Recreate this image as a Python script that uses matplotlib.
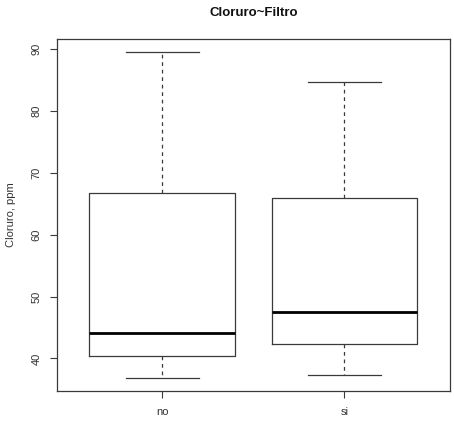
import matplotlib
matplotlib.use("Agg")
import matplotlib.pyplot as plt

plt.rcParams["font.family"] = ["Liberation Sans", "DejaVu Sans"]

# five-number summaries of chloride (ppm) by filter group
grupos = ["no", "si"]
minimo = [36.9, 37.3]
q1 = [40.45, 42.4]
mediana = [44.1, 47.45]
q3 = [66.75, 65.95]
maximo = [89.5, 84.65]

stats = []
for g, lo, a, m, b, hi in zip(grupos, minimo, q1, mediana, q3, maximo):
    stats.append({"label": g, "whislo": lo, "q1": a, "med": m, "q3": b, "whishi": hi})

fig = plt.figure(figsize=(4.54, 4.22), dpi=100)
ax = fig.add_axes([0.1249, 0.0742, 0.8663, 0.8327])

linea = "#3a3a3a"
ax.bxp(stats, positions=[1, 2], widths=0.8, showfliers=False,
       boxprops=dict(color=linea, linewidth=0.9),
       whiskerprops=dict(color=linea, linewidth=0.9, linestyle=(0, (3, 3))),
       capprops=dict(color=linea, linewidth=0.9),
       medianprops=dict(color="black", linewidth=2.0),
       capwidths=0.4)

# R-style 4% padding around the data
lo, hi = min(minimo), max(maximo)
pad = (hi - lo) * 0.04
ax.set_ylim(lo - pad, hi + pad)
ax.set_xlim(0.5 - 0.08, 2.5 + 0.08)

ax.set_yticks([40, 50, 60, 70, 80, 90])
ax.set_yticklabels(["40", "50", "60", "70", "80", "90"], rotation=90, va="center")
ax.set_xticks([1, 2])
ax.set_xticklabels(grupos)
ax.tick_params(axis="both", labelsize=8, length=5, width=0.8, color=linea,
               labelcolor="#333333")
ax.tick_params(axis="y", pad=6)
ax.tick_params(axis="x", pad=7)
for s in ax.spines.values():
    s.set_color(linea)
    s.set_linewidth(0.9)

ax.set_ylabel("Cloruro, ppm", fontsize=8, color="#333333", labelpad=11)
ax.set_title("Cloruro~Filtro", fontsize=9.5, fontweight="bold", color="#111111", pad=17)

fig.savefig("out.png", dpi=100)
